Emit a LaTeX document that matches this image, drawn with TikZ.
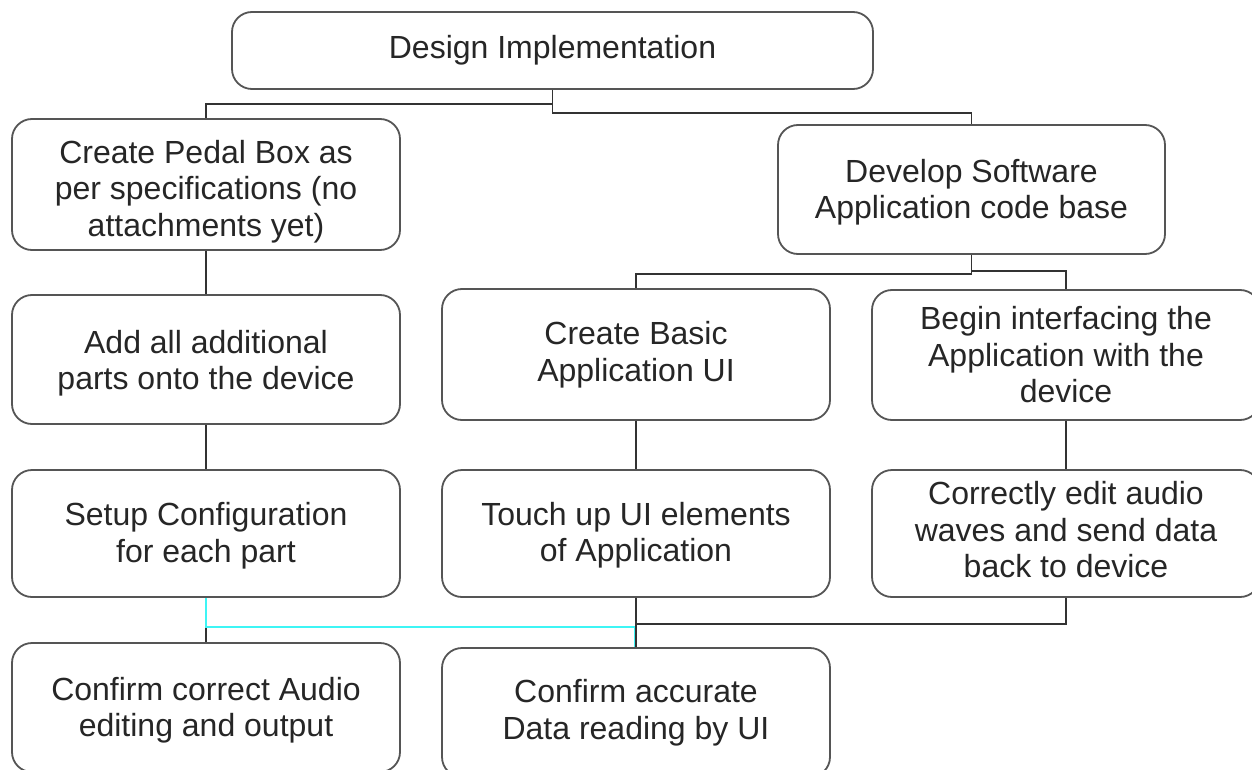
\documentclass[tikz,border=0pt]{standalone}
\usepackage{fontspec}
\setmainfont{Liberation Sans}
\definecolor{boxgray}{HTML}{555555}
\definecolor{txtgray}{HTML}{262626}
\definecolor{linegray}{HTML}{333333}
\definecolor{cyanline}{HTML}{3DF5F5}
\tikzset{
  box/.style={draw=boxgray, line width=1.8pt, rounded corners=20pt, align=center,
    font=\fontsize{32}{36.5}\selectfont, text=txtgray, inner sep=0pt,
    minimum width=388pt, minimum height=129pt},
  conn/.style={draw=linegray, line width=1.6pt},
  cconn/.style={draw=cyanline, line width=1.8pt}
}
\begin{document}
\begin{tikzpicture}[x=1pt,y=-1pt]
\useasboundingbox (0,0) rectangle (1252,770);
\clip (0,0) rectangle (1252,770);
\fill[white] (0,0) rectangle (1252,770);
\node[box, minimum width=641pt, minimum height=77pt] (top) at (552.5,50.5) {Design Implementation};
\node[box, minimum height=131pt] (pedal) at (206,184.5) {\rule{0pt}{37pt}Create Pedal Box as\\per specifications (no\\attachments yet)};
\node[box, minimum width=387pt] (dev) at (971.5,189.5) {\rule{0pt}{29pt}Develop Software\\Application code base};
\node[box] (add) at (206,359.5) {\rule{0pt}{31pt}Add all additional\\parts onto the device};
\node[box, minimum height=131pt] (basic) at (636,354.5) {Create Basic\\Application UI};
\node[box, minimum height=130pt] (begin) at (1066,355) {Begin interfacing the\\Application with the\\device};
\node[box, minimum height=127pt] (setup) at (206,533.5) {\rule{0pt}{28pt}Setup Configuration\\for each part};
\node[box, minimum height=127pt] (touch) at (636,533.5) {\rule{0pt}{27pt}Touch up UI elements\\of Application};
\node[box, minimum height=127pt] (correct) at (1066,533.5) {Correctly edit audio\\waves and send data\\back to device\rule[-8pt]{0pt}{8pt}};
\node[box] (caudio) at (206,707.5) {\rule{0pt}{29pt}Confirm correct Audio\\editing and output};
\node[box] (cdata) at (636,712.5) {Confirm accurate\\Data reading by UI};
% top level
\draw[conn] (top.south) -- ++(0,14) -| (pedal.north);
\draw[conn] (top.south) -- ++(0,23) -| (dev.north);
\draw[conn] (dev.south) -- ++(0,19) -| (basic.north);
\draw[conn] (dev.south) -- ++(0,16) -| (begin.north);
\draw[conn] (pedal.south) -- (add.north);
\draw[conn] (add.south) -- (setup.north);
\draw[conn] (basic.south) -- (touch.north);
\draw[conn] (begin.south) -- (correct.north);
% bottom
\draw[conn] (setup.south) -- (caudio.north);
\draw[cconn] (setup.south) -- ++(0,29) -| ([xshift=-1.5pt]cdata.north);
\draw[conn] (touch.south) -- (cdata.north);
\draw[conn] (touch.south) -- ++(0,26) -| (correct.south);
\end{tikzpicture}
\end{document}
